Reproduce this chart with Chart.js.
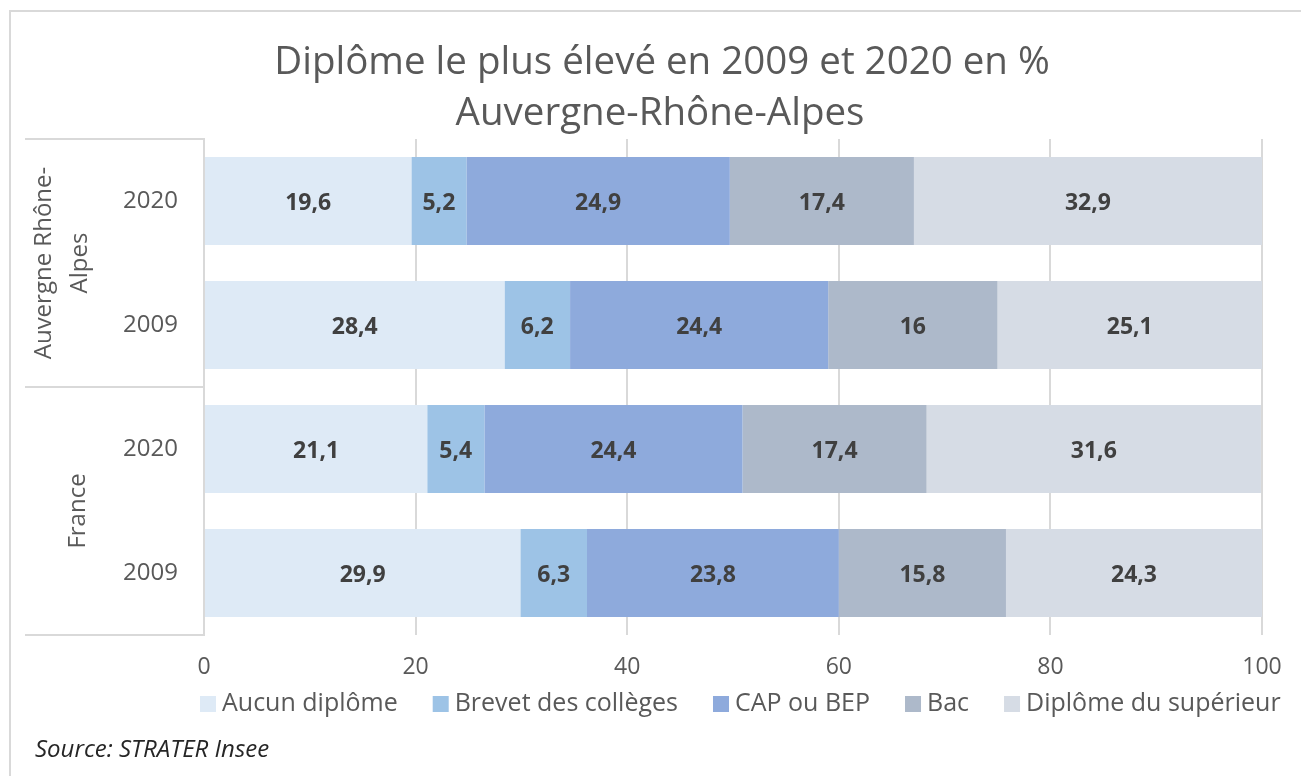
<!DOCTYPE html>
<html lang="fr">
<head>
<meta charset="utf-8">
<title>Diplôme le plus élevé en 2009 et 2020</title>
<script src="https://cdn.jsdelivr.net/npm/chart.js@4.4.1/dist/chart.umd.min.js"></script>
<style>
  html, body { margin: 0; padding: 0; background: #fff; }
  #wrap { width: 1301px; height: 776px; position: relative; }
</style>
</head>
<body>
<div id="wrap"><canvas id="diplomeChart" width="1301" height="776"></canvas></div>
<script>
// Données (lecture du graphique)
const yearLabels = ['2020', '2009', '2020', '2009'];
const groupLabels = [['Auvergne Rhône-', 'Alpes'], ['France']];
const aucunDiplome = [19.6, 28.4, 21.1, 29.9];
const brevet = [5.2, 6.2, 5.4, 6.3];
const capBep = [24.9, 24.4, 24.4, 23.8];
const bac = [17.4, 16, 17.4, 15.8];
const superieur = [32.9, 25.1, 31.6, 24.3];
const xTicks = [0, 20, 40, 60, 80, 100];

const FONT = '"Open Sans", "Noto Sans", sans-serif';
const GREY = '#595959';
const LINE = '#d9d9d9';

// Titre, source, cadre, légende et libellés de groupes
const decorPlugin = {
    id: 'decor',
    beforeDraw(chart) {
        const ctx = chart.ctx;
        ctx.save();
        // cadre extérieur
        ctx.strokeStyle = LINE;
        ctx.lineWidth = 2;
        ctx.beginPath();
        ctx.moveTo(10, 776);
        ctx.lineTo(10, 11);
        ctx.lineTo(1301, 11);
        ctx.stroke();

        // titre
        ctx.fillStyle = GREY;
        ctx.font = '38.5px ' + FONT;
        ctx.textAlign = 'center';
        ctx.textBaseline = 'middle';
        ctx.fillText('Diplôme le plus élevé en 2009 et 2020 en %', 662, 63);
        ctx.fillText('Auvergne-Rhône-Alpes', 660, 114);

        // source
        ctx.fillStyle = '#262626';
        ctx.font = 'italic 24px ' + FONT;
        ctx.textAlign = 'left';
        ctx.fillText('Source: STRATER Insee', 35, 750);

        // légende
        ctx.font = '25px ' + FONT;
        let lx = 200;
        chart.data.datasets.forEach(ds => {
            ctx.fillStyle = ds.backgroundColor;
            ctx.fillRect(lx, 696, 16, 16);
            ctx.fillStyle = GREY;
            ctx.fillText(ds.label, lx + 22, 704);
            lx += 22 + ctx.measureText(ds.label).width + 35;
        });
        ctx.restore();
    },
    afterDraw(chart) {
        const ctx = chart.ctx;
        const area = chart.chartArea;
        const y = chart.scales.y;
        const mid = (y.getPixelForValue(1) + y.getPixelForValue(2)) / 2;
        ctx.save();
        ctx.strokeStyle = LINE;
        ctx.lineWidth = 2;
        ctx.beginPath();
        [area.top, mid, area.bottom].forEach(py => {
            ctx.moveTo(25, py);
            ctx.lineTo(area.left, py);
        });
        ctx.stroke();

        ctx.fillStyle = GREY;
        ctx.font = '24px ' + FONT;
        ctx.textAlign = 'center';
        ctx.textBaseline = 'middle';
        const groups = [
            { lines: groupLabels[0], top: area.top, bottom: mid, xs: [44, 80] },
            { lines: groupLabels[1], top: mid, bottom: area.bottom, xs: [78] }
        ];
        groups.forEach(g => {
            const cy = (g.top + g.bottom) / 2;
            g.lines.forEach((txt, i) => {
                ctx.save();
                ctx.translate(g.xs[i], cy);
                ctx.rotate(-Math.PI / 2);
                ctx.fillText(txt, 0, 0);
                ctx.restore();
            });
        });

        // valeurs dans les barres
        ctx.fillStyle = '#404040';
        ctx.font = 'bold 23px ' + FONT;
        chart.data.datasets.forEach((ds, i) => {
            chart.getDatasetMeta(i).data.forEach((bar, j) => {
                const txt = String(ds.data[j]).replace('.', ',');
                const cx = (Math.min(bar.x, area.right) + bar.base) / 2;
                ctx.fillText(txt, cx, bar.y + 2);
            });
        });
        ctx.restore();
    }
};

new Chart(document.getElementById('diplomeChart').getContext('2d'), {
    type: 'bar',
    data: {
        labels: yearLabels,
        datasets: [
            { label: 'Aucun diplôme', data: aucunDiplome, backgroundColor: '#deeaf6' },
            { label: 'Brevet des collèges', data: brevet, backgroundColor: '#9dc3e6' },
            { label: 'CAP ou BEP', data: capBep, backgroundColor: '#8eaadc' },
            { label: 'Bac', data: bac, backgroundColor: '#adb9ca' },
            { label: 'Diplôme du supérieur', data: superieur, backgroundColor: '#d6dce5' }
        ]
    },
    options: {
        indexAxis: 'y',
        responsive: false,
        animation: false,
        layout: { padding: { left: 25, right: 39, top: 139, bottom: 91 } },
        datasets: {
            bar: { barPercentage: 0.71, categoryPercentage: 1, borderWidth: 0 }
        },
        plugins: {
            legend: { display: false },
            tooltip: { enabled: false }
        },
        scales: {
            x: {
                stacked: true,
                min: 0,
                max: 100,
                afterBuildTicks: scale => { scale.ticks = xTicks.map(v => ({ value: v })); },
                afterFit: scale => { scale.height = 50; },
                border: { display: false },
                grid: { color: LINE, lineWidth: 2, drawTicks: false },
                ticks: { color: GREY, font: { family: FONT, size: 23 }, padding: 19 }
            },
            y: {
                stacked: true,
                afterFit: scale => { scale.width = 179; },
                border: { display: true, color: LINE, width: 2 },
                grid: { display: false },
                ticks: { color: GREY, font: { family: FONT, size: 24 }, padding: 18 }
            }
        }
    },
    plugins: [decorPlugin]
});
</script>
</body>
</html>
